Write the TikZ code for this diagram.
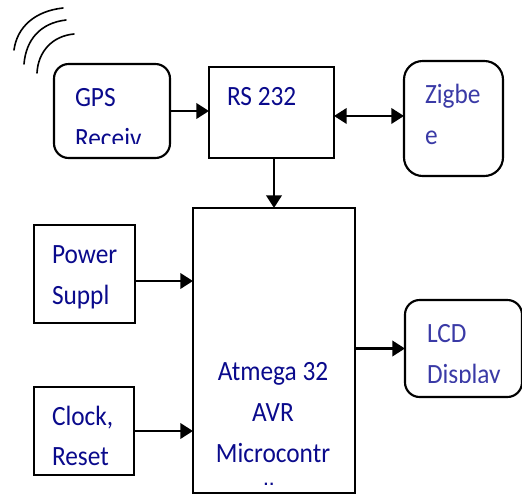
\documentclass[tikz,border=0pt]{standalone}
\usepackage{graphicx}
\usepackage{fontspec}
\setmainfont{Carlito}
\usetikzlibrary{arrows.meta}
\definecolor{inka}{HTML}{0A0A8C}
\definecolor{inkb}{HTML}{3A3AA6}
\newcommand{\tallfont}[1]{\scalebox{1}[1.1]{#1}}
\tikzset{
  x=0.75pt,y=-0.75pt,
  sqbox/.style={draw=black,line width=1.6pt,rectangle,inner sep=0pt,outer sep=0pt},
  rdbox/.style={sqbox,rounded corners=#1},
  lab/.style={anchor=base west,inner sep=0pt,outer sep=0pt,font=\fontsize{19}{19}\selectfont,text=inka},
  labb/.style={lab,text=inkb},
  labc/.style={anchor=base,inner sep=0pt,outer sep=0pt,font=\fontsize{19}{19}\selectfont,text=inka},
  conn/.style={line width=2pt,-{Triangle[length=9.5pt,width=11.5pt]}},
  biconn/.style={line width=2pt,{Triangle[length=9.5pt,width=11.5pt]}-{Triangle[length=9.5pt,width=11.5pt]}},
  wave/.style={line width=1.2pt,line cap=round}
}
\begin{document}
\begin{tikzpicture}
\useasboundingbox (0,0) rectangle (522,494);
% boxes
\node[rdbox=11pt,minimum width=87pt,minimum height=70.5pt] (gps) at (112,111) {};
\node[sqbox,minimum width=93.75pt,minimum height=68.25pt] (rs) at (271.5,112.5) {};
\node[rdbox=14pt,minimum width=74.25pt,minimum height=86.25pt] (zig) at (453.5,118.5) {};
\node[sqbox,line width=1.2pt,minimum width=121.5pt,minimum height=213.75pt] (main) at (274,350.5) {};
\node[sqbox,minimum width=75.75pt,minimum height=73.5pt] (pow) at (84.5,274) {};
\node[sqbox,minimum width=75pt,minimum height=66pt] (clk) at (84,431) {};
\begin{scope}
\clip (400,295) rectangle (522,402);
\node[rdbox=11pt,minimum width=87.75pt,minimum height=72.75pt] (lcd) at (463.5,348.5) {};
\end{scope}
% texts
\node[lab] (t1) at (75,106) {\tallfont{GPS}};
\begin{scope}
\clip (60,120) rectangle (165,143);
\node[lab] (t2) at (75,147) {\tallfont{Receiv}};
\end{scope}
\node[lab] (t3) at (227,105) {\tallfont{RS 232}};
\node[labb] (t4) at (425,103) {\tallfont{Zigbe}};
\node[labb] (t5) at (425,144) {\tallfont{e}};
\node[lab] (t6) at (52,263) {\tallfont{Power}};
\node[lab] (t7) at (52,304) {\tallfont{Suppl}};
\node[lab] (t8) at (52,425) {\tallfont{Clock,}};
\node[lab] (t9) at (52,465) {\tallfont{Reset}};
\node[labb] (t10) at (427,342) {\tallfont{LCD}};
\begin{scope}
\clip (410,355) rectangle (515,382);
\node[labb] (t11) at (427,383) {\tallfont{Display}};
\end{scope}
\node[labc] (t12) at (273,380) {\tallfont{Atmega 32}};
\node[labc] (t13) at (273,421) {\tallfont{AVR}};
\node[labc] (t14) at (273,462) {\tallfont{Microcontr}};
\begin{scope}
\clip (200,470) rectangle (350,484.5);
\node[labc] (t15) at (273,502) {\tallfont{oller}};
\end{scope}
% connectors
\draw[conn] (gps.east) -- (gps.east -| rs.west);
\draw[biconn] ([yshift=-2.6pt]rs.east) -- ([yshift=-2.6pt]rs.east -| zig.west);
\draw[conn] (rs.south -| main.north) -- (main.north);
\draw[conn] ([yshift=-5.25pt]pow.east) -- ([yshift=-5.25pt]pow.east -| main.west);
\draw[conn] (clk.east) -- (clk.east -| main.west);
\draw[conn] (main.east |- lcd.west) -- (lcd.west);
% radio waves
\draw[wave] (14,50) .. controls (17,27) and (35,11) .. (63,8);
\draw[wave] (24,64) .. controls (26,40) and (40,23) .. (66,20);
\draw[wave] (37,73) .. controls (38,52) and (52,36) .. (74,34);
\end{tikzpicture}
\end{document}
